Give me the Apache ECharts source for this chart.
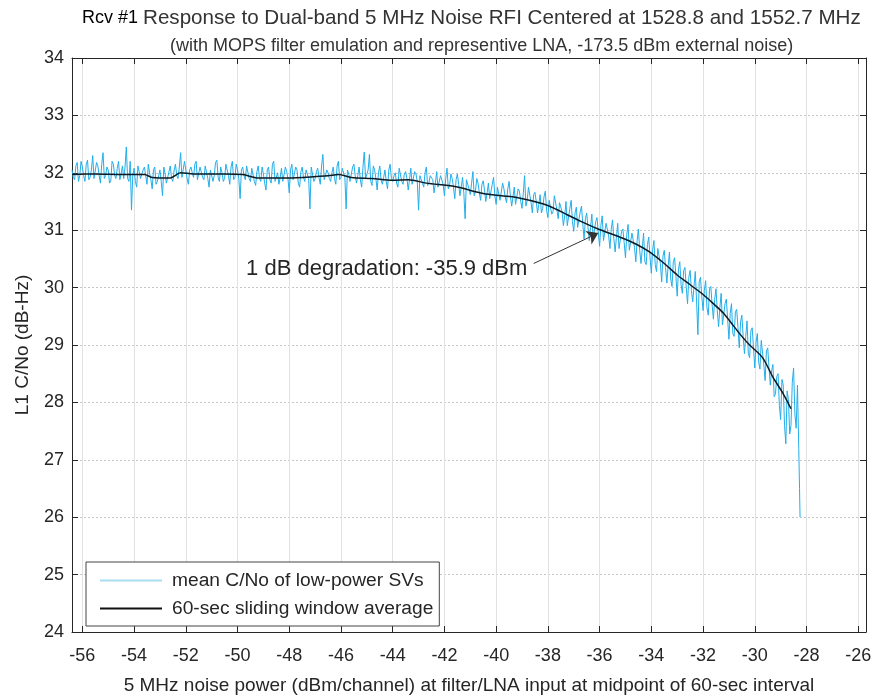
<!DOCTYPE html>
<html><head><meta charset="utf-8">
<script src="https://cdn.jsdelivr.net/npm/echarts@6/dist/echarts.min.js"></script>
<style>html,body{margin:0;padding:0;background:#fff}#c{width:878px;height:700px}</style>
</head><body><div id="c"></div>
<script>
// ---- data ----
const xTicks = [-56,-54,-52,-50,-48,-46,-44,-42,-40,-38,-36,-34,-32,-30,-28,-26];
const yTicks = [24,25,26,27,28,29,30,31,32,33,34];

// 60-sec sliding window average [dBm, dB-Hz]
const avgData = [
  [-56.4,31.97],[-55.9,31.98],[-55.5,31.98],[-54.5,31.97],[-53.6,31.97],[-53.3,31.92],[-52.6,31.91],
  [-52.2,32.00],[-51.7,31.98],[-50.5,31.98],[-49.8,31.97],[-49.2,31.91],[-47.9,31.91],
  [-46.5,31.95],[-46.1,31.97],[-45.6,31.92],[-44.8,31.90],[-44.0,31.87],[-43.4,31.88],[-42.7,31.82],
  [-41.6,31.76],[-40.5,31.64],[-39.8,31.60],[-39.2,31.57],[-38.2,31.46],[-37.7,31.37],[-37.3,31.28],
  [-36.7,31.15],[-36.1,31.03],[-35.1,30.86],[-34.6,30.76],[-34.1,30.63],[-33.5,30.42],[-33.0,30.22],
  [-32.5,30.05],[-32.0,29.88],[-31.6,29.72],[-31.2,29.55],[-30.8,29.32],[-30.5,29.15],
  [-30.2,29.00],[-29.7,28.78],[-29.3,28.44],[-28.9,28.15],[-28.6,27.89]
];

// mean C/No of low-power SVs: samples every 0.1 dBm starting at -56.4 ...
const noiseStartX = -56.4;
const noiseStepX = 0.1;
const noiseY = [
  32.05,31.88,32.18,31.95,32.10,31.85,32.22,31.92,32.30,31.90,
  32.12,31.82,32.35,31.95,32.05,31.86,32.15,31.90,32.20,31.98,
  31.90,32.45,31.85,31.35,32.08,31.75,32.15,31.88,32.10,31.80,
  32.00,31.72,32.10,31.85,32.05,31.60,31.98,31.80,32.12,31.85,
  32.15,31.90,32.35,31.95,32.18,31.80,32.10,31.92,32.20,31.85,
  32.10,31.88,32.15,31.75,32.05,31.95,32.22,31.85,32.00,31.90,
  32.12,31.80,32.20,31.92,32.05,31.55,32.10,31.88,32.15,31.85,
  32.05,31.78,32.12,31.85,31.98,31.70,32.10,31.82,32.20,31.88,
  31.80,32.08,31.86,32.02,31.65,32.15,31.90,32.05,31.75,32.10,
  31.85,32.05,31.37,32.12,31.90,32.08,31.80,32.32,31.95,32.00,
  31.85,32.10,31.80,32.20,31.92,32.05,31.37,31.98,31.85,32.15,
  31.82,32.10,31.75,32.36,31.90,32.32,31.78,32.05,31.70,32.12,
  31.80,32.05,31.72,32.15,31.85,32.00,31.75,32.10,31.80,32.02,
  31.70,32.08,31.80,31.98,31.35,31.95,31.75,32.10,31.82,31.98,
  31.65,32.02,31.72,31.95,31.60,32.08,31.78,31.90,31.55,31.98,
  31.60,31.92,31.20,31.88,31.62,32.02,31.68,31.82,31.52,31.86,
  31.50,31.82,31.58,31.92,31.45,31.78,31.55,31.72,31.48,31.85,
  31.42,31.75,31.48,31.68,31.38,31.95,31.52,31.72,31.30,31.66,
  31.30,31.62,31.38,31.68,31.22,31.55,31.32,31.58,31.20,31.45,
  31.08,31.50,31.10,31.52,30.98,31.40,31.02,31.42,30.85,31.30,
  30.82,31.28,30.86,31.22,30.72,31.25,30.82,31.15,30.68,31.18,
  30.62,31.12,30.65,31.02,30.52,31.10,30.68,30.95,30.45,31.02,
  30.42,30.95,30.40,30.88,30.25,30.82,30.28,30.70,30.10,30.65,
  30.08,30.62,30.02,30.52,29.85,30.45,29.90,30.35,29.72,30.30,
  29.75,30.28,29.18,30.18,29.60,30.12,29.52,30.02,29.45,29.98,
  29.32,29.90,29.35,29.80,29.10,29.72,29.15,29.62,28.95,29.52,
  28.85,29.42,28.78,29.30,28.60,29.20,28.58,29.05,28.38,28.95,
  28.30,28.66,28.15,28.50,27.70,28.30,27.28,28.05,27.60,28.60
];
// ... and the readings half-way between them (at -56.35, -56.25, ...)
const noiseYMid = [
  31.92,32.12,31.85,32.20,31.95,32.15,31.88,32.05,31.90,32.18,
  31.95,32.15,31.90,32.10,31.82,32.20,31.95,32.08,31.88,32.12,
  32.10,31.90,32.20,31.95,31.85,32.12,31.90,32.05,31.95,32.15,
  31.88,32.05,31.80,31.95,31.85,32.10,31.82,32.02,31.90,32.05,
  31.95,32.10,31.92,32.20,31.90,32.05,32.00,32.15,31.88,32.10,
  31.92,32.12,31.90,32.05,31.85,32.18,31.92,32.10,31.85,32.15,
  31.95,32.10,31.88,32.15,31.90,32.05,31.95,32.12,31.90,32.08,
  31.85,32.02,31.90,32.10,31.82,32.05,31.88,32.15,31.85,32.00,
  31.92,31.85,32.10,31.90,32.05,31.88,32.10,31.82,32.02,31.92,
  32.05,31.90,32.10,31.85,32.02,31.92,32.12,31.88,32.05,31.90,
  32.00,31.90,32.12,31.88,32.08,31.92,32.05,31.85,32.10,31.95,
  31.95,31.88,32.10,31.90,32.05,31.85,32.12,31.90,32.00,31.88,
  31.92,31.85,32.05,31.90,31.95,31.82,32.08,31.85,31.98,31.90,
  31.88,31.80,32.02,31.85,31.95,31.82,32.00,31.78,31.95,31.88,
  31.82,31.75,31.95,31.80,31.90,31.72,31.98,31.75,31.88,31.80,
  31.75,31.65,31.88,31.72,31.82,31.60,31.90,31.65,31.80,31.70,
  31.65,31.55,31.80,31.60,31.75,31.52,31.82,31.58,31.72,31.60,
  31.58,31.45,31.72,31.50,31.65,31.42,31.75,31.48,31.62,31.50,
  31.45,31.30,31.58,31.35,31.52,31.28,31.60,31.35,31.48,31.32,
  31.25,31.08,31.38,31.15,31.30,31.05,31.32,31.10,31.20,31.05,
  31.05,30.85,31.15,30.95,31.08,30.82,31.12,30.90,31.02,30.85,
  30.88,30.68,30.98,30.78,30.92,30.65,30.95,30.70,30.82,30.65,
  30.68,30.45,30.75,30.52,30.65,30.40,30.68,30.42,30.55,30.35,
  30.38,30.15,30.45,30.20,30.32,30.05,30.30,30.00,30.18,29.95,
  30.02,29.75,30.10,29.85,29.95,29.65,29.98,29.70,29.80,29.60,
  29.65,29.35,29.72,29.45,29.55,29.20,29.58,29.30,29.40,29.15,
  29.15,28.85,29.25,28.95,29.05,28.70,29.08,28.65,28.90,28.60,
  28.55,28.10,28.45,27.95,28.40,27.60,28.20,27.45,28.35,27.80
];
const noiseTail = [[-28.4,27.55],[-28.35,28.30],[-28.3,27.20],[-28.27,26.50],[-28.25,26.00]];

const arrowFrom = [-38.55, 30.42];
const arrowTo = [-36.05, 30.95];
const noteText = '1 dB degradation: -35.9 dBm';

// ---- build ----
const noiseData = [];
noiseY.forEach((v, i) => {
  const x = noiseStartX + i * noiseStepX;
  noiseData.push([+x.toFixed(2), v]);
  noiseData.push([+(x + noiseStepX / 2).toFixed(2), noiseYMid[i]]);
});
noiseTail.forEach(p => noiseData.push(p));

const FONT = '"Liberation Sans", Arial, sans-serif';
const TXT = '#262626';
const chart = echarts.init(document.getElementById('c'), null, {renderer: 'canvas'});

const baseX = {
  type: 'value', min: -56.4, max: -25.7,
  axisLine: {show: true, onZero: false, lineStyle: {color: TXT, width: 1}},
  axisTick: {show: true, inside: true, length: 6, customValues: xTicks, lineStyle: {color: TXT}},
  axisLabel: {customValues: xTicks}
};
const baseY = {
  type: 'value', min: 24, max: 34, interval: 1,
  axisLine: {show: true, onZero: false, lineStyle: {color: TXT, width: 1}},
  axisTick: {show: true, inside: true, length: 6, lineStyle: {color: TXT}}
};

chart.setOption({
  animation: false,
  backgroundColor: '#fff',
  textStyle: {fontFamily: FONT},
  title: [
    {left: 77, top: 3, text: '{a|Rcv #1} {b|Response to Dual-band 5 MHz Noise RFI Centered at 1528.8 and 1552.7 MHz}',
     textStyle: {fontWeight: 'normal', rich: {
       a: {fontSize: 18, color: '#000', fontFamily: FONT, fontWeight: 'normal'},
       b: {fontSize: 20.6, color: '#333', fontFamily: FONT, fontWeight: 'normal'}}}},
    {left: 165, top: 32, text: '(with MOPS filter emulation and representive LNA, -173.5 dBm external noise)',
     textStyle: {fontSize: 18, fontWeight: 'normal', color: '#333', fontFamily: FONT}}
  ],
  grid: {left: 72, right: 12, top: 58, bottom: 63, containLabel: false},
  xAxis: [
    Object.assign({}, baseX, {
      position: 'bottom',
      name: '5 MHz noise power (dBm/channel) at filter/LNA input at midpoint of 60-sec interval',
      nameLocation: 'middle', nameGap: 44,
      nameTextStyle: {fontSize: 19, color: TXT, fontFamily: FONT},
      axisLabel: {customValues: xTicks, fontSize: 18, color: TXT, margin: 15, fontFamily: FONT},
      splitLine: {show: true, lineStyle: {color: '#e2e2e2', width: 1}}
    }),
    Object.assign({}, baseX, {
      position: 'top',
      axisLabel: {show: false, customValues: xTicks},
      splitLine: {show: false}
    })
  ],
  yAxis: [
    Object.assign({}, baseY, {
      position: 'left',
      name: 'L1 C/No (dB-Hz)', nameLocation: 'middle', nameGap: 40,
      nameTextStyle: {fontSize: 19, color: TXT, fontFamily: FONT},
      axisLabel: {fontSize: 18, color: TXT, margin: 8, fontFamily: FONT},
      splitLine: {show: true, lineStyle: {color: '#c6c6c6', width: 1, type: [2, 2]}}
    }),
    Object.assign({}, baseY, {
      position: 'right',
      axisLabel: {show: false},
      splitLine: {show: false}
    })
  ],
  legend: {
    orient: 'vertical', left: 86, top: 562,
    padding: [9, 6, 8, 14], itemGap: 9,
    itemWidth: 62, itemHeight: 2,
    backgroundColor: '#fff', borderColor: '#444', borderWidth: 1,
    textStyle: {fontSize: 19.2, color: TXT, fontFamily: FONT, padding: [0, 0, 0, 5]},
    data: [
      {name: 'mean C/No of low-power SVs', icon: 'rect', itemStyle: {color: '#a9ddf1'}},
      {name: '60-sec sliding window average', icon: 'rect', itemStyle: {color: '#111'}}
    ]
  },
  series: [
    {
      name: 'mean C/No of low-power SVs', type: 'line', data: noiseData,
      symbol: 'none', showSymbol: false, xAxisIndex: 0, yAxisIndex: 0,
      lineStyle: {color: '#22aeea', width: 1}, itemStyle: {color: '#22aeea'},
      z: 2
    },
    {
      name: '60-sec sliding window average', type: 'line', data: avgData,
      symbol: 'none', showSymbol: false, xAxisIndex: 0, yAxisIndex: 0, smooth: 0.3,
      lineStyle: {color: '#0d1a22', width: 1.5}, itemStyle: {color: '#0d1a22'},
      z: 3,
      markLine: {
        silent: true, symbol: ['none', 'arrow'], symbolSize: 11,
        lineStyle: {color: '#333', width: 1, type: 'solid'},
        label: {show: false},
        data: [[{coord: arrowFrom}, {coord: arrowTo}]]
      },
      markPoint: {
        silent: true,
        data: [{
          coord: [-38.62, 30.33], symbol: 'circle', symbolSize: 1,
          itemStyle: {color: 'rgba(0,0,0,0)'},
          label: {show: true, position: 'left', distance: 4, formatter: noteText,
                  fontSize: 22, color: TXT, fontFamily: FONT}
        }]
      }
    }
  ]
});
</script>
</body></html>
